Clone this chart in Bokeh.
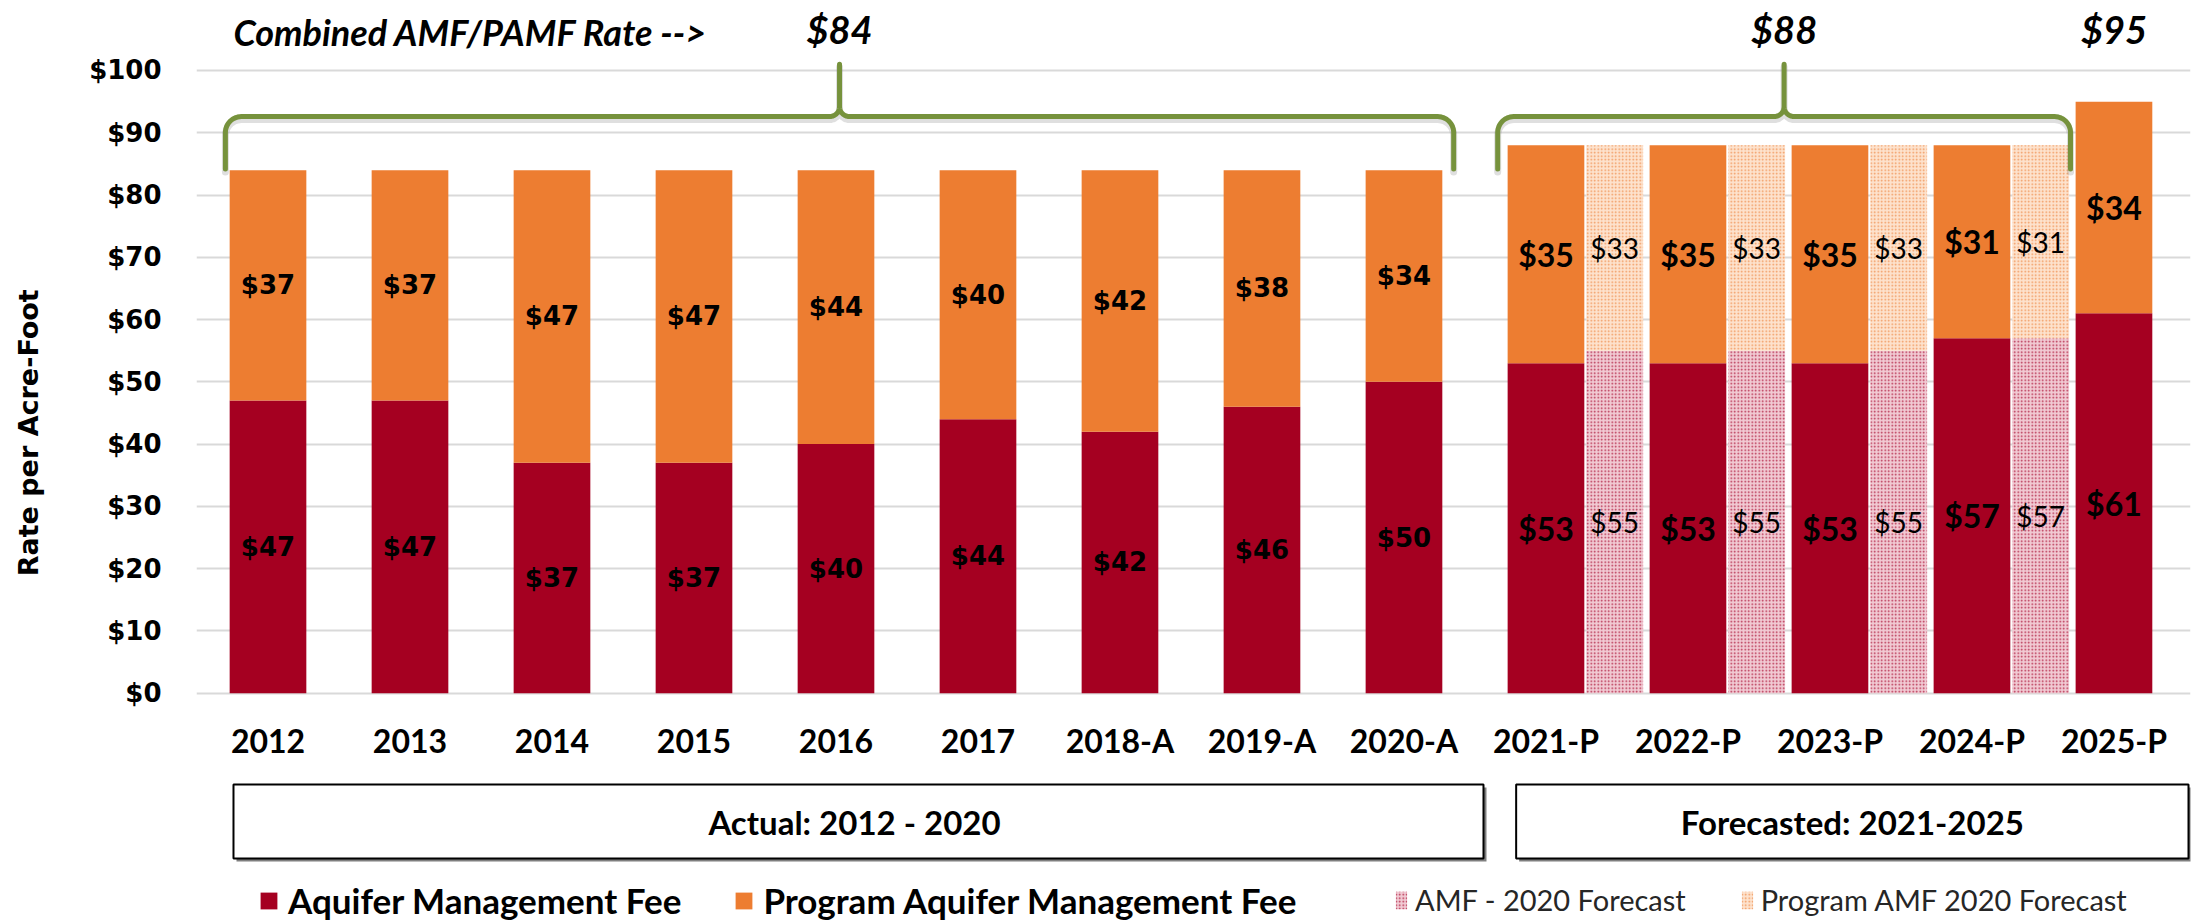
import numpy as np
from bokeh.plotting import figure
from bokeh.models import (Range1d, FixedTicker, NumeralTickFormatter, Legend,
                          LegendItem)
from bokeh.embed import file_html
from bokeh.resources import INLINE
from bokeh.core.properties import value

# ---------------- data ----------------
categories = ["2012", "2013", "2014", "2015", "2016", "2017", "2018-A",
              "2019-A", "2020-A", "2021-P", "2022-P", "2023-P", "2024-P", "2025-P"]
amf = [47, 47, 37, 37, 40, 44, 42, 46, 50, 53, 53, 53, 57, 61]
pamf = [37, 37, 47, 47, 44, 40, 42, 38, 34, 35, 35, 35, 31, 34]
forecast_categories = ["2021-P", "2022-P", "2023-P", "2024-P"]
amf_2020_forecast = [55, 55, 55, 57]
pamf_2020_forecast = [33, 33, 33, 31]
n_actual = 9
period_labels = ["Actual:  2012 - 2020", "Forecasted: 2021-2025"]
series_names = ["Aquifer Management Fee", "Program Aquifer Management Fee",
                "AMF - 2020 Forecast", "Program AMF 2020 Forecast"]
combined_caption = "Combined AMF/PAMF Rate -->"
y_title = "Rate per Acre-Foot"
y_ticks = list(range(0, 101, 10))

# ---------------- style / layout ----------------
RED = "#a50021"
ORANGE = "#ed7d31"
GREEN = "#76923c"
GRID = "#d9d9d9"
W, H = 2197, 921
LEFT = 196
RIGHT = 7
x_start, x_end = -0.5035, 13.539
y_start, y_end = -36.66, 111.24
sx = (W - LEFT - RIGHT) / (x_end - x_start)   # px per x unit
sy = H / (y_end - y_start)                    # px per y unit
BAR_W = 0.54
HATCH_W = 0.40
HATCH_OFF = BAR_W / 2 + 2 / sx + HATCH_W / 2
# the axis title sits ~30px above the frame centre: pad its start with
# non-breaking spaces so the visible text is shifted upward
TITLE_PAD = "\u00a0" * 6

p = figure(width=W, height=H, x_range=Range1d(x_start, x_end),
           y_range=Range1d(y_start, y_end), output_backend="svg",
           toolbar_location=None, min_border_left=LEFT, min_border_right=RIGHT,
           min_border_top=0, min_border_bottom=0)
p.outline_line_color = None
p.background_fill_color = "white"
p.border_fill_color = "white"

# axes
p.xgrid.visible = False
p.ygrid.ticker = FixedTicker(ticks=y_ticks)
p.ygrid.grid_line_color = GRID
p.ygrid.grid_line_width = 2

p.yaxis.ticker = FixedTicker(ticks=y_ticks)
p.yaxis.formatter = NumeralTickFormatter(format="$0")
p.yaxis.axis_line_color = None
p.yaxis.major_tick_line_color = None
p.yaxis.minor_tick_line_color = None
p.yaxis.major_tick_out = 0
p.yaxis.major_label_standoff = 35
p.yaxis.major_label_text_font = "DejaVu Sans"
p.yaxis.major_label_text_font_style = "bold"
p.yaxis.major_label_text_font_size = "26px"
p.yaxis.major_label_text_color = "black"
p.yaxis.axis_label = TITLE_PAD + y_title
p.yaxis.axis_label_standoff = 42
p.yaxis.axis_label_text_font = "DejaVu Sans"
p.yaxis.axis_label_text_font_style = "bold"
p.yaxis.axis_label_text_font_size = "27px"
p.yaxis.axis_label_text_color = "black"

xs = np.arange(len(categories), dtype=float)
p.xaxis.ticker = FixedTicker(ticks=list(range(len(categories))))
p.xaxis.major_label_overrides = {i: c for i, c in enumerate(categories)}
p.xaxis.fixed_location = 0
p.xaxis.axis_line_color = None
p.xaxis.major_tick_line_color = None
p.xaxis.minor_tick_line_color = None
p.xaxis.major_tick_out = 0
p.xaxis.major_label_standoff = 28
p.xaxis.major_label_text_font = "Lato"
p.xaxis.major_label_text_font_style = "bold"
p.xaxis.major_label_text_font_size = "32px"
p.xaxis.major_label_text_color = "black"

# ---------------- bars ----------------
amf_a = np.array(amf, dtype=float)
pamf_a = np.array(pamf, dtype=float)
tot = amf_a + pamf_a
r_amf = p.vbar(x=xs, width=BAR_W, bottom=0, top=amf_a, fill_color=RED, line_color=None)
r_pamf = p.vbar(x=xs, width=BAR_W, bottom=amf_a, top=tot, fill_color=ORANGE, line_color=None)

fx = np.array([categories.index(c) for c in forecast_categories], dtype=float) + HATCH_OFF
f_amf = np.array(amf_2020_forecast, dtype=float)
f_pamf = np.array(pamf_2020_forecast, dtype=float)
r_famf = p.vbar(x=fx, width=HATCH_W, bottom=0, top=f_amf, fill_color="#f1cad3",
                hatch_pattern="dot", hatch_color="#b52a4c", hatch_scale=3.5,
                hatch_weight=1.5, line_color=None)
r_fpamf = p.vbar(x=fx, width=HATCH_W, bottom=f_amf, top=f_amf + f_pamf,
                 fill_color="#fde2cd", hatch_pattern="dot", hatch_color="#f0965a",
                 hatch_scale=3.5, hatch_weight=1.5, line_color=None)

# ---------------- value labels ----------------
def money(v):
    return [f"${int(round(t))}" for t in v]

act = slice(0, n_actual)
fc = slice(n_actual, len(categories))
common = dict(text_align="center", text_baseline="middle", text_color="black")
p.text(x=xs[act], y=amf_a[act] / 2, text=money(amf_a[act]), text_font=value("DejaVu Sans"),
       text_font_style="bold", text_font_size="26px", **common)
p.text(x=xs[act], y=amf_a[act] + pamf_a[act] / 2, text=money(pamf_a[act]),
       text_font=value("DejaVu Sans"), text_font_style="bold", text_font_size="26px", **common)
p.text(x=xs[fc], y=amf_a[fc] / 2, text=money(amf_a[fc]), text_font=value("Lato"),
       text_font_style="bold", text_font_size="32px", **common)
p.text(x=xs[fc], y=amf_a[fc] + pamf_a[fc] / 2, text=money(pamf_a[fc]),
       text_font=value("Lato"), text_font_style="bold", text_font_size="32px", **common)
p.text(x=fx, y=f_amf / 2, text=money(f_amf), text_font=value("Lato"),
       text_font_size="28px", **common)
p.text(x=fx, y=f_amf + f_pamf / 2, text=money(f_pamf), text_font=value("Lato"),
       text_font_size="28px", **common)

# ---------------- braces ----------------
def brace(x0, x1, yb, yh, yp, r=16.0, rc=10.0):
    X0, X1 = x0 * sx, x1 * sx
    Yb, Yh, Yp = yb * sy, yh * sy, yp * sy
    Xc = (X0 + X1) / 2
    px, py = [X0], [Yb]
    t = np.linspace(np.pi, np.pi / 2, 14)
    px += list(X0 + r + r * np.cos(t)); py += list(Yh - r + r * np.sin(t))
    t = np.linspace(-np.pi / 2, 0, 10)
    px += list(Xc - rc + rc * np.cos(t)); py += list(Yh + rc + rc * np.sin(t))
    px.append(Xc); py.append(Yp)
    t = np.linspace(np.pi, 1.5 * np.pi, 10)
    px += list(Xc + rc + rc * np.cos(t)); py += list(Yh + rc + rc * np.sin(t))
    t = np.linspace(np.pi / 2, 0, 14)
    px += list(X1 - r + r * np.cos(t)); py += list(Yh - r + r * np.sin(t))
    px.append(X1); py.append(Yb)
    return np.array(px) / sx, np.array(py) / sy

last_fc = categories.index(forecast_categories[-1])
brace_specs = [
    (0 - BAR_W / 2 - 0.03, n_actual - 1 + BAR_W / 2 + 0.08),
    (n_actual - BAR_W / 2 - 0.07, last_fc + HATCH_OFF + HATCH_W / 2 + 0.01),
]
centers = []
for b0, b1 in brace_specs:
    bx, by = brace(b0, b1, 84.2, 92.6, 101.0)
    p.line(bx, by - 3 / sy, line_color="#808080", line_alpha=0.25, line_width=7,
           line_join="round", line_cap="round")
    p.line(bx, by, line_color=GREEN, line_width=5, line_join="round", line_cap="round")
    centers.append((b0 + b1) / 2)

p.text(x=[centers[0], centers[1], xs[-1]], y=[106.6] * 3,
       text=money([tot[0], tot[n_actual], tot[-1]]), text_align="center",
       text_font=value("Lato"), text_font_style="bold italic", text_font_size="38px",
       text_baseline="middle", text_color="black")
p.text(x=[-0.243], y=[106.2], text=[combined_caption], text_align="left",
       text_font=value("Lato"), text_font_style="bold italic", text_font_size="36px",
       text_baseline="middle", text_color="black")

# ---------------- period boxes ----------------
box_l = [-0.243, 8.79]
box_r = [8.56, x_end - 2 / sx]
box_t, box_b = -14.66, -26.55
dx, dy = 3 / sx, 3 / sy
p.quad(left=[l + dx for l in box_l], right=[r + dx for r in box_r], top=box_t - dy,
       bottom=box_b - dy, fill_color="#7f7f7f", line_color=None)
p.quad(left=box_l, right=box_r, top=box_t, bottom=box_b, fill_color="white",
       line_color="black", line_width=2)
p.text(x=[(l + r) / 2 for l, r in zip(box_l, box_r)], y=[(box_t + box_b) / 2] * 2,
       text=period_labels, text_font=value("Lato"), text_font_style="bold",
       text_font_size="33px", text_align="center", text_baseline="middle",
       text_color="black")

# ---------------- legends ----------------
leg1 = Legend(items=[LegendItem(label=series_names[0], renderers=[r_amf]),
                     LegendItem(label=series_names[1], renderers=[r_pamf])],
              location=(62, 0), orientation="horizontal", glyph_width=21,
              glyph_height=21, label_standoff=9, spacing=52, padding=0, margin=0,
              border_line_color=None, background_fill_alpha=0,
              label_text_font="Lato", label_text_font_style="bold",
              label_text_font_size="35px", label_text_color="black")
leg2 = Legend(items=[LegendItem(label=series_names[2], renderers=[r_famf]),
                     LegendItem(label=series_names[3], renderers=[r_fpamf])],
              location=(1198, 4), orientation="horizontal", glyph_width=14,
              glyph_height=22, label_standoff=7, spacing=54, padding=0, margin=0,
              border_line_color=None, background_fill_alpha=0,
              label_text_font="Lato", label_text_font_size="29px",
              label_text_color="#262626")
p.add_layout(leg1)
p.add_layout(leg2)

open("out.html", "w").write(file_html(p, INLINE))
